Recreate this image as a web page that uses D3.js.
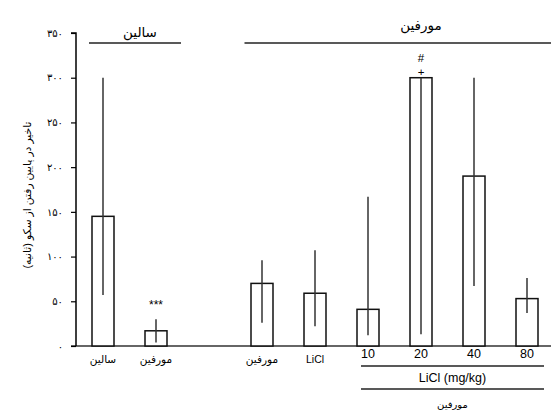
<!DOCTYPE html>
<html>
<head>
<meta charset="utf-8">
<script src="https://cdn.jsdelivr.net/npm/d3@7"></script>
<style>
  body { margin: 0; background: #fff; }
  svg { font-family: "Liberation Sans", Arial, "DejaVu Sans", sans-serif; }
</style>
</head>
<body>
<svg width="551" height="411"></svg>
<script>
// groups on the x axis, "gap" is the empty slot between the two panels
var categories = ["saline", "morphine", "gap", "morphine2", "licl", "d10", "d20", "d40", "d80"];
var tickLabels = ["سالین", "مورفین", "", "مورفین", "LiCl", "10", "20", "40", "80"];
var means = [145, 17, null, 70, 59, 41, 300, 190, 53];
var errLow = [57, 4, null, 26, 22, 12, 13, 67, 37];
var errHigh = [300, 30, null, 96, 107, 167, 300, 300, 76];
var yTicks = [0, 50, 100, 150, 200, 250, 300, 350];

var svg = d3.select("svg");

var y = d3.scaleLinear().domain([0, 350]).range([346, 33]);
var x = d3.scaleBand().domain(categories)
    .range([76.5, 76.5 + 9 * 53])
    .paddingInner(0.585)
    .paddingOuter(0.2925);

function cx(k) { return x(k) + x.bandwidth() / 2; }
var fa = d3.formatLocale({ decimal: ".", thousands: ",", grouping: [3], currency: ["", ""],
    numerals: ["۰", "۱", "۲", "۳", "۴", "۵", "۶", "۷", "۸", "۹"] }).format("d");

var rows = categories.map(function (c, i) {
    return { key: c, label: tickLabels[i], mean: means[i], lo: errLow[i], hi: errHigh[i] };
});
var bars = rows.filter(function (d) { return d.mean != null; });

// baseline
svg.append("line")
    .attr("x1", 71).attr("x2", 551)
    .attr("y1", y(0)).attr("y2", y(0))
    .attr("stroke", "#666").attr("stroke-width", 2);

// bars
svg.selectAll("rect.bar").data(bars).enter().append("rect")
    .attr("class", "bar")
    .attr("x", function (d) { return x(d.key); })
    .attr("width", x.bandwidth())
    .attr("y", function (d) { return y(d.mean); })
    .attr("height", function (d) { return y(0) - y(d.mean); })
    .attr("fill", "#fff").attr("stroke", "#111").attr("stroke-width", 1.5);

// error lines
svg.selectAll("line.err").data(bars).enter().append("line")
    .attr("class", "err")
    .attr("x1", function (d) { return cx(d.key); })
    .attr("x2", function (d) { return cx(d.key); })
    .attr("y1", function (d) { return y(d.hi); })
    .attr("y2", function (d) { return y(d.lo); })
    .attr("stroke", "#333").attr("stroke-width", 1.5);

// y axis
var yAxis = svg.append("g")
    .attr("transform", "translate(76,0)")
    .call(d3.axisLeft(y).tickValues(yTicks).tickFormat(fa).tickSize(5).tickPadding(8));
yAxis.select(".domain").attr("stroke", "#000").attr("stroke-width", 1.5)
    .attr("d", "M0," + y(0) + "V" + y(350) + "H-5");
yAxis.selectAll(".tick line").attr("stroke", "#000").attr("stroke-width", 1.2);
yAxis.selectAll(".tick text").attr("font-size", 10).attr("fill", "#000")
    .attr("font-family", "'DejaVu Sans', sans-serif");

svg.append("text")
    .attr("transform", "translate(27,195) rotate(-90)")
    .attr("text-anchor", "middle").attr("dy", "0.35em")
    .attr("font-size", 10.8)
    .attr("direction", "rtl")
    .text("تاخیر در پایین رفتن از سکو (ثانیه)");

// x tick labels
svg.selectAll("text.xlab").data(rows.filter(function (d) { return d.label; })).enter().append("text")
    .attr("class", "xlab")
    .attr("x", function (d) { return cx(d.key); })
    .attr("y", function (d) { return /^d/.test(d.key) ? 354 : 359; })
    .attr("dy", "0.35em")
    .attr("text-anchor", "middle")
    .attr("font-size", function (d) { return /^d/.test(d.key) ? 12.5 : 10.5; })
    .text(function (d) { return d.label; });

// significance marks
svg.append("text").attr("x", cx("morphine")).attr("y", y(46))
    .attr("dy", "0.35em").attr("text-anchor", "middle").attr("font-size", 12)
    .text("***");
svg.append("text").attr("x", cx("d20")).attr("y", y(300) - 2)
    .attr("text-anchor", "middle").attr("font-size", 11.5)
    .text("+");
svg.append("text").attr("x", cx("d20")).attr("y", y(300) - 16)
    .attr("text-anchor", "middle").attr("font-size", 11.5)
    .text("#");

// group brackets on top
var brackets = [
    { label: "سالین", x1: cx("saline") - 14, x2: cx("morphine") + 25, tx: 140, ty: 32 },
    { label: "مورفین", x1: cx("morphine2") - 17.5, x2: 551, tx: cx("d20"), ty: 25 }
];
brackets.forEach(function (g) {
    svg.append("line").attr("x1", g.x1).attr("x2", g.x2).attr("y1", 43).attr("y2", 43)
        .attr("stroke", "#222").attr("stroke-width", 1.3);
    svg.append("text")
        .attr("x", g.tx).attr("y", g.ty)
        .attr("dy", "0.35em").attr("text-anchor", "middle").attr("font-size", 13.5)
        .text(g.label);
});

// dose brackets under the axis
var doseX1 = cx("d10") - 7, doseX2 = cx("d80") + 17;
[366, 389].forEach(function (yy) {
    svg.append("line").attr("x1", doseX1).attr("x2", doseX2).attr("y1", yy).attr("y2", yy)
        .attr("stroke", "#222").attr("stroke-width", 1.3);
});
svg.append("text").attr("x", (doseX1 + doseX2) / 2).attr("y", 378)
    .attr("dy", "0.35em").attr("text-anchor", "middle").attr("font-size", 12.5)
    .text("LiCl (mg/kg)");
svg.append("text").attr("x", (doseX1 + doseX2) / 2).attr("y", 404)
    .attr("dy", "0.35em").attr("text-anchor", "middle").attr("font-size", 10)
    .text("مورفین");
</script>
</body>
</html>
